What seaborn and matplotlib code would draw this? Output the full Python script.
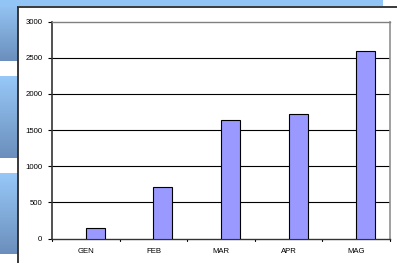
import numpy as np
import pandas as pd
import matplotlib
matplotlib.use("Agg")
import matplotlib.pyplot as plt
import seaborn as sns
from matplotlib.colors import LinearSegmentedColormap

categories = ["GEN", "FEB", "MAR", "APR", "MAG"]
values = [150, 710, 1640, 1715, 2590]
yticks = [0, 500, 1000, 1500, 2000, 2500, 3000]

sns.set_theme(style="white")
plt.rcParams['font.family'] = ['Liberation Sans', 'DejaVu Sans']

W, H = 397, 263
fig = plt.figure(figsize=(W / 100, H / 100), dpi=100)
fig.patch.set_facecolor("white")

# background decoration in pixel coordinates
bg = fig.add_axes([0, 0, 1, 1])
bg.set_xlim(0, W)
bg.set_ylim(H, 0)
bg.axis("off")
cmap = LinearSegmentedColormap.from_list("b", ["#97c8f8", "#6b8fbc"])
grad = np.linspace(0, 1, 100).reshape(-1, 1)
for (y0, y1) in [(0, 61), (76, 158), (173, 254)]:
    bg.imshow(grad, cmap=cmap, extent=[0, 17.3, y1, y0], aspect="auto")
bg.imshow(np.zeros((2, 2)), cmap=LinearSegmentedColormap.from_list("c", ["#93c4f6", "#93c4f6"]),
          extent=[0, 383, 6, 0], aspect="auto")
bg.plot([17.8, 17.8], [6.5, H], color="#2a2a2a", lw=1.3, solid_capstyle="butt")
bg.plot([17.3, W], [6.7, 6.7], color="#2a2a2a", lw=1.3, solid_capstyle="butt")

# plot area
left, right, top, bottom = 52, 390, 21.5, 238.5
ax = fig.add_axes([left / W, (H - bottom) / H, (right - left) / W, (bottom - top) / H])
ax.set_facecolor("white")

df = pd.DataFrame({
    "month": categories * 2,
    "val": [0] * len(categories) + values,
    "series": ["a"] * len(categories) + ["b"] * len(categories),
})
sns.barplot(data=df, x="month", y="val", hue="series", order=categories,
            hue_order=["a", "b"], palette=["#9999ff", "#9999ff"], saturation=1,
            width=0.56, dodge=True, edgecolor="black", linewidth=0.8, legend=False,
            ax=ax, errorbar=None, zorder=3)
# hide the empty first series
for p in ax.patches[:len(categories)]:
    p.set_visible(False)

ax.set_ylim(0, 3000)
ax.set_xlim(-0.5, len(categories) - 0.5)
ax.set_yticks(yticks)
ax.set_yticklabels([str(v) for v in yticks], fontsize=5.6, color="black")
for v in yticks[1:-1]:
    ax.axhline(v, color="black", lw=0.8, zorder=1)
ax.set_xticks(range(len(categories)))
ax.set_xticklabels(categories, fontsize=5.6, color="black")
ax.tick_params(axis="x", length=0, pad=7)
ax.tick_params(axis="y", length=3, width=0.8, direction="out", left=True, pad=4, color="black")
for b in np.arange(-0.5, len(categories) + 0.5, 1):
    ax.plot([b, b], [0, -0.012], transform=ax.get_xaxis_transform(), color="black",
            lw=0.8, clip_on=False)
ax.set_xlabel("")
ax.set_ylabel("")
ax.spines["left"].set_color("#333333")
ax.spines["left"].set_linewidth(1.2)
ax.spines["bottom"].set_color("#333333")
ax.spines["bottom"].set_linewidth(1.0)
ax.spines["top"].set_color("#808080")
ax.spines["top"].set_linewidth(1.0)
ax.spines["right"].set_color("#909090")
ax.spines["right"].set_linewidth(1.2)

fig.savefig("out.png", dpi=100)
